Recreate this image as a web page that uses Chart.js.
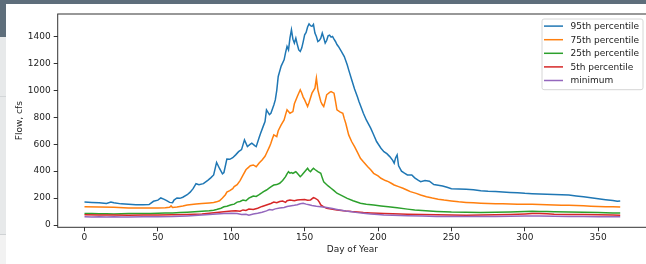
<!DOCTYPE html>
<html>
<head>
<meta charset="utf-8">
<script src="https://cdn.jsdelivr.net/npm/chart.js@4.4.1/dist/chart.umd.min.js"></script>
<style>
  html, body { margin: 0; padding: 0; width: 646px; height: 264px; overflow: hidden; background: #f2f2f2; }
  #topbar { position: absolute; left: 0; top: 0; width: 646px; height: 4px; background: #5e6e7b; }
  #sidebar { position: absolute; left: 0; top: 0; width: 6px; height: 37px; background: #5e6e7b; }
  #strip { position: absolute; left: 0; top: 37px; width: 6px; height: 197px; background: #e7e9ea; border-bottom: 1px solid #cfd2d4; }
  #strip-line { position: absolute; left: 0; top: 96px; width: 6px; height: 1px; background: #d3d6d8; }
  #card { position: absolute; left: 6px; top: 4px; width: 640px; height: 260px; background: #fff; overflow: hidden; }
  #chart { position: absolute; left: 0; top: 0; }
</style>
</head>
<body>
<div id="topbar"></div>
<div id="sidebar"></div>
<div id="strip"></div>
<div id="strip-line"></div>
<div id="card"><canvas id="chart" width="644" height="260"></canvas></div>
<script>
const seriesLabels = ['95th percentile', '75th percentile', '25th percentile', '5th percentile', 'minimum'];
const seriesColors = ['#1f77b4', '#ff7f0e', '#2ca02c', '#d62728', '#9467bd'];
const xTicks = [0, 50, 100, 150, 200, 250, 300, 350];
const yTicks = [0, 200, 400, 600, 800, 1000, 1200, 1400];

const p95Days = [0, 5, 10, 15, 18, 20, 25, 30, 35, 40, 44, 47, 50, 52, 54, 56, 58, 60, 61, 63, 65, 67, 70, 72, 74, 76, 78, 81, 84, 86, 88, 90, 92, 94, 95, 97, 99, 101, 103, 105, 107, 109, 111, 113, 114, 116, 117, 119, 120, 122, 123, 124, 126, 127, 129, 130, 131, 132, 134, 136, 137, 138, 139, 140, 141, 142, 143, 144, 145, 146, 147, 148, 149, 150, 151, 152, 153, 154, 155, 156, 157, 158, 159, 160, 161, 162, 163, 164, 165, 166, 167, 168, 169, 170, 171, 172, 173, 175, 177, 179, 180, 182, 184, 186, 187, 189, 190, 192, 195, 197, 199, 202, 204, 206, 208, 210, 211, 212, 213, 214, 216, 218, 220, 223, 225, 227, 229, 232, 235, 238, 241, 244, 247, 250, 255, 260, 265, 270, 275, 280, 285, 290, 295, 300, 305, 310, 315, 320, 325, 330, 335, 340, 345, 350, 355, 360, 363, 365];
const p95Flow = [170, 168, 166, 160, 171, 165, 157, 154, 151, 151, 152, 176, 185, 201, 192, 181, 168, 166, 185, 201, 198, 206, 225, 244, 270, 307, 300, 307, 332, 350, 372, 465, 420, 380, 390, 490, 488, 500, 521, 545, 560, 632, 582, 600, 607, 590, 582, 650, 682, 740, 768, 855, 820, 830, 892, 929, 1000, 1103, 1180, 1227, 1280, 1326, 1301, 1390, 1450, 1380, 1351, 1388, 1340, 1300, 1289, 1314, 1360, 1413, 1430, 1470, 1494, 1480, 1475, 1490, 1425, 1400, 1363, 1370, 1388, 1425, 1390, 1351, 1370, 1405, 1410, 1395, 1400, 1380, 1363, 1340, 1326, 1290, 1251, 1190, 1152, 1080, 1010, 950, 917, 860, 830, 780, 719, 670, 620, 570, 545, 530, 508, 480, 459, 500, 520, 440, 400, 385, 372, 372, 350, 335, 322, 330, 325, 300, 295, 290, 280, 270, 268, 265, 262, 255, 250, 248, 245, 242, 240, 235, 232, 230, 228, 226, 224, 222, 216, 210, 202, 195, 188, 182, 176, 178];

const p75Days = [0, 10, 20, 30, 40, 45, 50, 55, 58, 59, 60, 63, 67, 70, 73, 76, 80, 85, 88, 90, 92, 94, 96, 97, 99, 101, 102, 104, 106, 108, 110, 111, 113, 115, 117, 119, 121, 123, 124, 126, 127, 128, 129, 131, 132, 134, 136, 137, 138, 140, 142, 143, 145, 147, 148, 149, 150, 152, 153, 155, 157, 158, 159, 160, 161, 162, 163, 164, 165, 167, 168, 170, 171, 172, 174, 176, 177, 178, 180, 182, 184, 186, 188, 190, 193, 195, 197, 200, 202, 205, 207, 209, 211, 214, 217, 220, 222, 226, 229, 233, 237, 241, 245, 250, 255, 260, 265, 270, 275, 280, 285, 290, 295, 300, 305, 310, 315, 320, 325, 330, 335, 340, 345, 350, 355, 360, 365];
const p75Flow = [136, 133, 131, 127, 126, 126, 127, 129, 131, 142, 130, 133, 141, 148, 152, 156, 160, 164, 167, 172, 180, 200, 225, 245, 255, 270, 285, 300, 330, 370, 410, 421, 440, 446, 433, 460, 483, 510, 533, 580, 607, 640, 669, 657, 700, 744, 781, 820, 855, 830, 842, 900, 954, 1004, 980, 950, 929, 880, 910, 979, 1016, 1091, 1004, 960, 917, 895, 880, 920, 967, 985, 991, 979, 920, 855, 840, 830, 790, 756, 669, 620, 582, 540, 496, 470, 433, 410, 384, 365, 347, 330, 322, 310, 297, 285, 273, 258, 248, 235, 223, 210, 200, 192, 185, 178, 172, 168, 165, 162, 160, 158, 157, 156, 155, 155, 154, 152, 150, 148, 147, 146, 145, 143, 140, 138, 136, 135, 133];

const p25Days = [0, 5, 10, 15, 20, 25, 30, 35, 40, 45, 50, 55, 60, 65, 70, 75, 80, 85, 88, 90, 93, 95, 97, 100, 102, 104, 106, 108, 110, 112, 114, 115, 117, 119, 121, 122, 124, 126, 128, 129, 131, 133, 135, 137, 138, 139, 140, 141, 142, 143, 144, 145, 147, 148, 150, 152, 153, 154, 155, 156, 157, 159, 161, 162, 163, 164, 166, 168, 170, 172, 175, 179, 183, 188, 192, 197, 202, 207, 213, 220, 225, 230, 235, 240, 250, 260, 270, 280, 290, 300, 305, 310, 315, 320, 330, 340, 350, 360, 365];
const p25Flow = [86, 85, 84, 83, 82, 84, 85, 86, 85, 86, 88, 89, 90, 92, 95, 99, 103, 106, 110, 115, 125, 135, 140, 150, 155, 170, 175, 185, 180, 200, 210, 215, 212, 225, 240, 248, 260, 275, 290, 297, 300, 310, 330, 359, 380, 396, 385, 390, 384, 390, 396, 385, 359, 370, 396, 421, 405, 396, 410, 421, 412, 396, 384, 350, 320, 310, 290, 273, 255, 236, 220, 198, 180, 161, 155, 149, 142, 136, 128, 118, 112, 108, 104, 101, 96, 94, 93, 95, 97, 100, 102, 101, 100, 99, 97, 95, 92, 90, 89];

const p5Days = [0, 10, 20, 30, 40, 50, 60, 70, 80, 85, 90, 95, 100, 103, 106, 108, 110, 112, 115, 118, 121, 124, 127, 129, 131, 133, 135, 137, 138, 140, 143, 145, 147, 150, 152, 154, 156, 157, 159, 160, 161, 163, 165, 168, 172, 175, 178, 182, 186, 190, 195, 200, 204, 210, 220, 230, 240, 250, 260, 270, 280, 290, 300, 305, 310, 315, 320, 330, 340, 350, 360, 365];
const p5Flow = [76, 75, 74, 73, 74, 75, 76, 78, 82, 88, 93, 98, 104, 106, 102, 112, 108, 118, 115, 125, 138, 149, 160, 170, 165, 175, 178, 168, 180, 186, 180, 186, 188, 190, 184, 186, 203, 200, 186, 170, 149, 135, 124, 118, 112, 108, 104, 100, 97, 93, 90, 88, 86, 84, 80, 78, 76, 74, 73, 74, 76, 78, 82, 85, 86, 83, 80, 78, 78, 76, 74, 73];

const minDays = [0, 5, 10, 15, 20, 25, 30, 40, 50, 60, 65, 70, 75, 80, 85, 90, 95, 100, 104, 107, 110, 112, 115, 118, 121, 124, 126, 128, 130, 133, 136, 138, 140, 143, 145, 147, 149, 151, 153, 155, 158, 161, 164, 166, 169, 172, 175, 178, 182, 186, 190, 195, 200, 204, 210, 220, 230, 240, 250, 260, 270, 280, 290, 300, 310, 320, 330, 340, 350, 360, 365];
const minFlow = [62, 60, 62, 60, 61, 59, 60, 61, 62, 63, 65, 67, 70, 74, 78, 82, 85, 88, 85, 78, 80, 72, 82, 88, 95, 105, 115, 112, 120, 126, 130, 138, 142, 146, 150, 158, 161, 155, 150, 145, 140, 136, 132, 128, 122, 116, 110, 104, 98, 92, 88, 82, 78, 74, 72, 68, 66, 64, 64, 63, 63, 64, 65, 66, 66, 65, 64, 63, 62, 61, 62];

const seriesDays = [p95Days, p75Days, p25Days, p5Days, minDays];
const seriesFlow = [p95Flow, p75Flow, p25Flow, p5Flow, minFlow];

const tickFont = { family: 'DejaVu Sans', size: 9 };

// matplotlib-style frame around the plot area
const frame = {
    id: 'frame',
    afterDatasetsDraw(chart) {
        const { ctx, chartArea: a } = chart;
        ctx.save();
        ctx.strokeStyle = '#333';
        ctx.lineWidth = 1;
        ctx.strokeRect(a.left, a.top, a.right - a.left, a.bottom - a.top);
        ctx.restore();
    }
};

// legend box in the upper right corner of the axes
const legendBox = {
    id: 'legendBox',
    afterDraw(chart) {
        const { ctx, chartArea: a } = chart;
        const w = 101, h = 70.7;
        const left = a.right - 4.5 - w;
        const top = a.top + 4.5;
        ctx.save();
        ctx.beginPath();
        ctx.roundRect(left + 0.5, top + 0.5, w, h, 2);
        ctx.fillStyle = 'rgba(255,255,255,0.8)';
        ctx.fill();
        ctx.strokeStyle = '#d6d6d6';
        ctx.lineWidth = 1;
        ctx.stroke();
        ctx.font = '9px "DejaVu Sans"';
        ctx.textBaseline = 'middle';
        chart.data.datasets.forEach((ds, i) => {
            const y = top + 7.6 + i * 13.6;
            ctx.strokeStyle = ds.borderColor;
            ctx.lineWidth = 1.5;
            ctx.beginPath();
            ctx.moveTo(left + 2.5, y);
            ctx.lineTo(left + 21.5, y);
            ctx.stroke();
            ctx.fillStyle = '#222';
            ctx.fillText(ds.label, left + 29, y + 0.5);
        });
        ctx.restore();
    }
};

const datasets = seriesLabels.map((label, i) => ({
    label: label,
    data: seriesDays[i].map((d, j) => ({ x: d, y: seriesFlow[i][j] })),
    borderColor: seriesColors[i],
    backgroundColor: seriesColors[i],
    borderWidth: 1.5,
    pointRadius: 0,
    tension: 0,
    fill: false,
    order: seriesLabels.length - i
}));

new Chart(document.getElementById('chart'), {
    type: 'line',
    data: { datasets: datasets },
    options: {
        responsive: false,
        animation: false,
        layout: { padding: { top: 10, right: 3, left: 0, bottom: 0 } },
        plugins: {
            legend: { display: false },
            tooltip: { enabled: false }
        },
        scales: {
            x: {
                type: 'linear',
                min: -18.25,
                max: 383.25,
                afterBuildTicks: (scale) => { scale.ticks = xTicks.map(v => ({ value: v })); },
                afterFit: (scale) => { scale.height = 36.7; },
                ticks: { font: tickFont, color: '#222', padding: 1, maxRotation: 0, callback: (v) => String(v) },
                grid: { drawOnChartArea: false, drawTicks: true, tickLength: 4, color: '#333' },
                border: { display: false },
                title: { display: true, text: 'Day of Year', font: tickFont, color: '#222', padding: { top: 0, bottom: 8.6 } }
            },
            y: {
                type: 'linear',
                min: -17,
                max: 1567,
                afterBuildTicks: (scale) => { scale.ticks = yTicks.map(v => ({ value: v })); },
                afterFit: (scale) => { scale.width = 51.7; },
                ticks: { font: tickFont, color: '#222', padding: 3, callback: (v) => String(v) },
                grid: { drawOnChartArea: false, drawTicks: true, tickLength: 4, color: '#333' },
                border: { display: false },
                title: { display: true, text: 'Flow, cfs', font: tickFont, color: '#222', padding: { top: 8.6, bottom: 0 } }
            }
        }
    },
    plugins: [frame, legendBox]
});
</script>
</body>
</html>
